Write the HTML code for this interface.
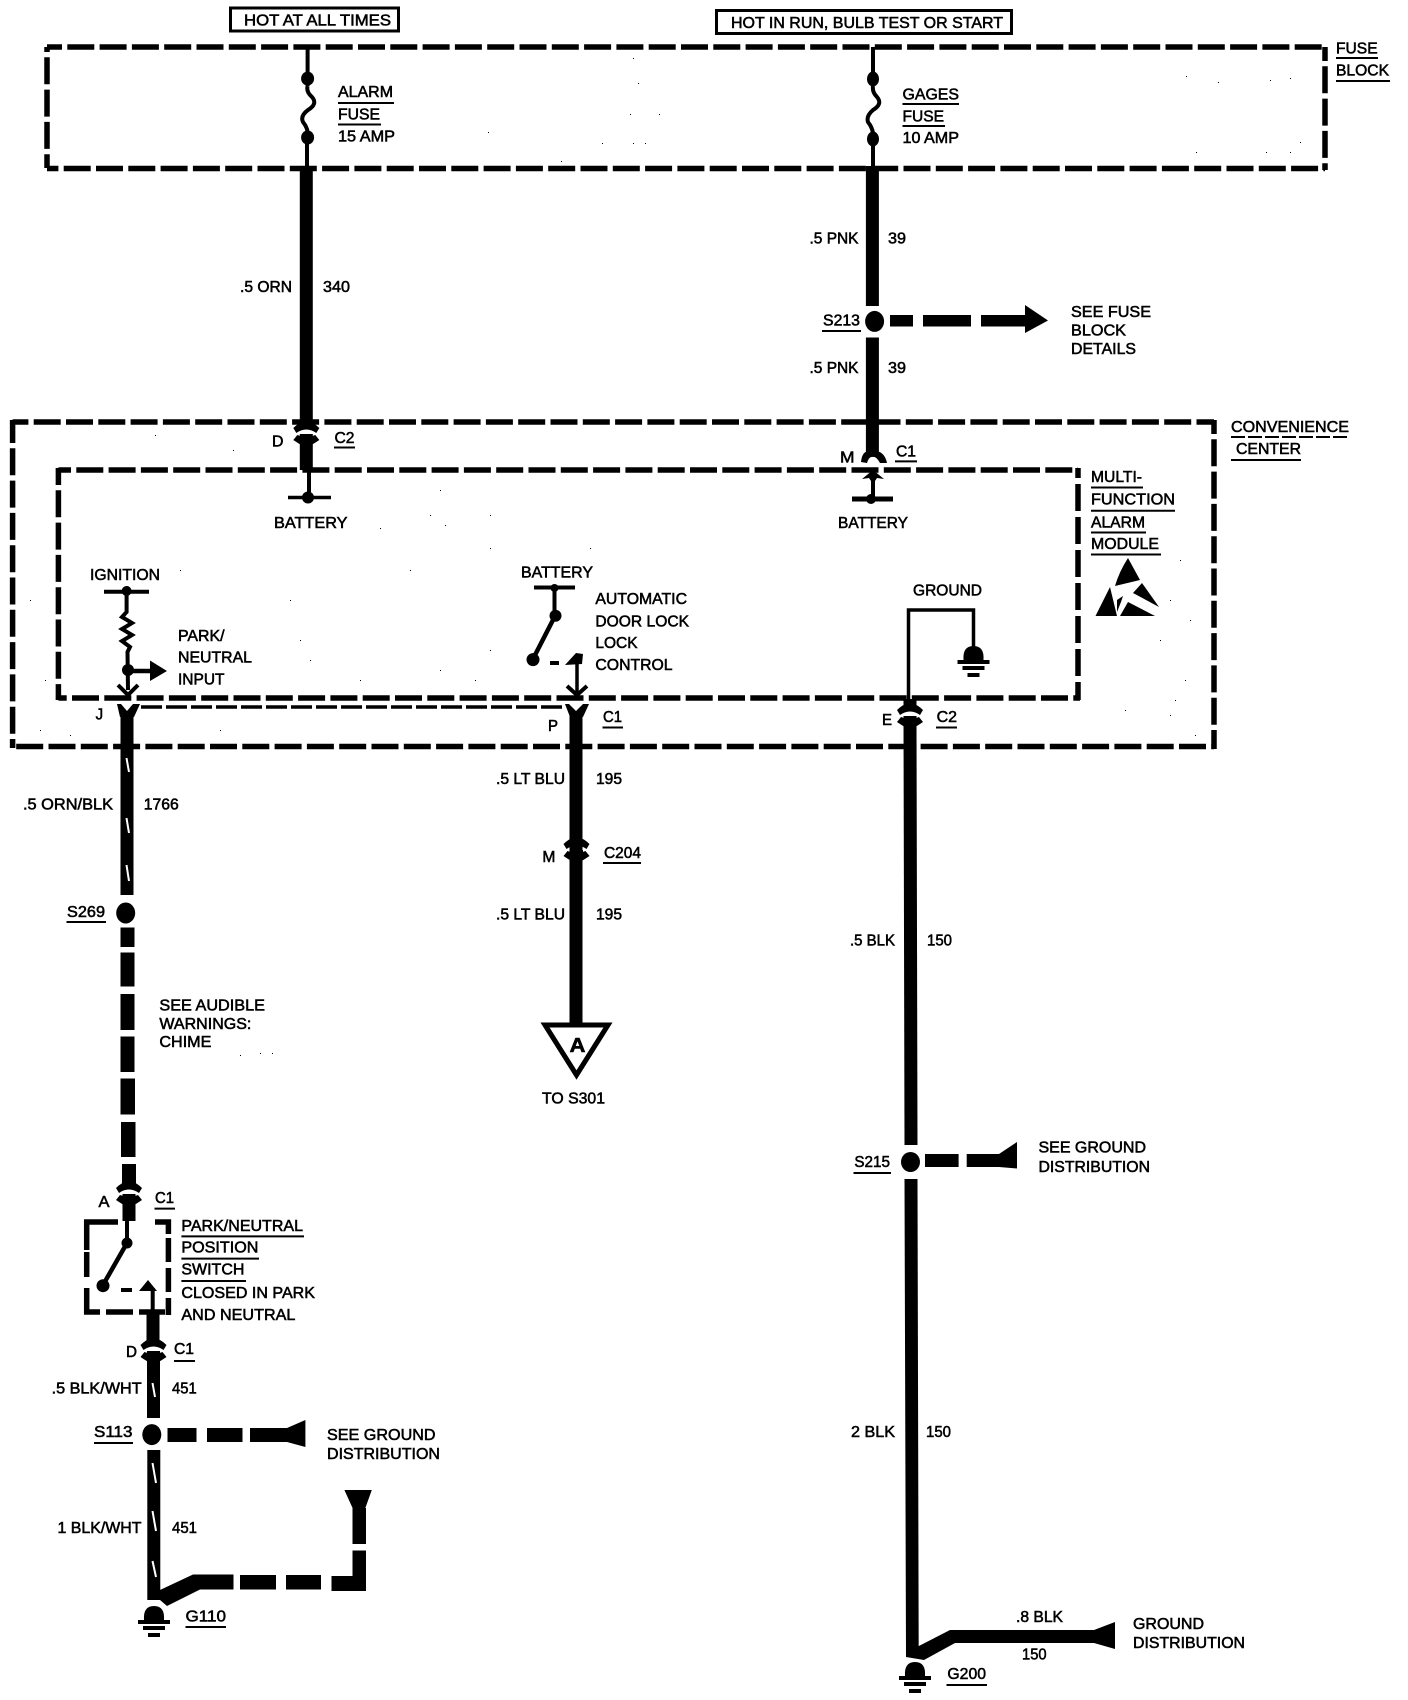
<!DOCTYPE html>
<html><head><meta charset="utf-8"><title>Wiring diagram</title>
<style>
html,body{margin:0;padding:0;background:#fff;width:1408px;height:1700px;overflow:hidden}
svg{display:block}
text{font-family:"Liberation Sans",sans-serif;font-size:16px;fill:#000;stroke:#000;stroke-width:.55px}
.d{stroke:#000;stroke-width:5.5;fill:none;stroke-dasharray:27 5.3}
.l{stroke:#000;fill:none}
.u{stroke:#000;stroke-width:2;fill:none}
.w{stroke:#000;stroke-width:13;fill:none}
.t{stroke:#000;stroke-width:4;fill:none}
.s{stroke:#fff;stroke-width:2;fill:none}
</style></head><body>
<svg width="1408" height="1700" viewBox="0 0 1408 1700" xmlns="http://www.w3.org/2000/svg">
<defs>
<g id="cn">
<path d="M-13,-7 Q-7,-13 0,-14 Q7,-13 13,-7 L10,-2 Q0,-9 -10,-2 Z"/>
<path d="M-13,5 L-9,0 L0,3 L9,0 L13,5 Q7,9 5,10 L-5,10 Q-7,9 -13,5 Z"/>
<rect x="-6.500" y="-10" width="13" height="4"/>
<rect x="-6.500" y="-1" width="13" height="8"/>
</g>
<g id="gnd">
<path d="M-10,14 Q-11,0 0,0 Q11,0 10,14 Z"/>
<rect x="-16" y="14" width="32" height="4"/>
<rect x="-11" y="20" width="22" height="4"/>
<rect x="-6" y="27" width="12" height="4"/>
</g>
</defs>

<!-- header boxes -->
<rect x="230.500" y="8" width="168" height="23" fill="none" stroke="#000" stroke-width="3"/>
<rect x="716.500" y="10.500" width="295" height="23" fill="none" stroke="#000" stroke-width="3"/>
<text x="244" y="25.700" textLength="147" lengthAdjust="spacingAndGlyphs">HOT AT ALL TIMES</text>
<text x="731" y="27.900" textLength="272" lengthAdjust="spacingAndGlyphs">HOT IN RUN, BULB TEST OR START</text>

<!-- fuse block -->
<line class="d" x1="47" y1="47" x2="1325" y2="47" stroke-dashoffset="12"/>
<line class="d" x1="47" y1="168.500" x2="1325" y2="168.500" stroke-dashoffset="15.600"/>
<line class="d" x1="47" y1="47" x2="47" y2="168" stroke-dashoffset="22"/>
<line class="d" x1="1325" y1="47" x2="1325" y2="170" stroke-dashoffset="13"/>
<text x="1336" y="53.600" textLength="41.600" lengthAdjust="spacingAndGlyphs">FUSE</text>
<line class="u" x1="1336" y1="58" x2="1378" y2="58"/>
<text x="1336" y="75.700" textLength="53" lengthAdjust="spacingAndGlyphs">BLOCK</text>
<line class="u" x1="1336" y1="81" x2="1390" y2="81"/>

<!-- convenience center -->
<line class="d" x1="12.600" y1="422" x2="1214" y2="422" stroke-dashoffset="11.200"/>
<line class="d" x1="12.600" y1="746.500" x2="1214" y2="746.500" stroke-dashoffset="28.700"/>
<line class="d" x1="12.600" y1="420" x2="12.600" y2="748" stroke-dashoffset="4"/>
<line class="d" x1="1214" y1="420" x2="1214" y2="749" stroke-dashoffset="13"/>
<text x="1231" y="432" textLength="118" lengthAdjust="spacingAndGlyphs">CONVENIENCE</text>
<line class="u" x1="1231" y1="437" x2="1349" y2="437" stroke-dasharray="14 3"/>
<text x="1236" y="454" textLength="65" lengthAdjust="spacingAndGlyphs">CENTER</text>
<line class="u" x1="1231" y1="460" x2="1301" y2="460"/>

<!-- module -->
<line class="d" x1="58.400" y1="470" x2="1078" y2="470" stroke-dashoffset="14.400"/>
<line class="d" x1="58.400" y1="698" x2="1080" y2="698" stroke-dashoffset="18.700"/>
<line class="d" x1="58.400" y1="468" x2="58.400" y2="700" stroke-dashoffset="10"/>
<line class="d" x1="1078" y1="468" x2="1078" y2="700" stroke-dashoffset="17" style="stroke-dasharray:27 6"/>
<line class="l" stroke-width="3.500" stroke-dasharray="21 4" x1="141" y1="707" x2="565" y2="707"/>
<text x="1091" y="482" textLength="51" lengthAdjust="spacingAndGlyphs">MULTI-</text>
<line class="u" x1="1091" y1="487.500" x2="1143" y2="487.500"/>
<text x="1091" y="504.600" textLength="84" lengthAdjust="spacingAndGlyphs">FUNCTION</text>
<line class="u" x1="1091" y1="510.700" x2="1175" y2="510.700"/>
<text x="1091" y="527.500" textLength="54" lengthAdjust="spacingAndGlyphs">ALARM</text>
<line class="u" x1="1091" y1="532.500" x2="1146" y2="532.500"/>
<text x="1091" y="549" textLength="68" lengthAdjust="spacingAndGlyphs">MODULE</text>
<line class="u" x1="1091" y1="554.500" x2="1161" y2="554.500"/>

<!-- ESD symbol -->
<path d="M1128,558 L1140,580 L1115,586 Q1119,572 1128,558 Z"/>
<path d="M1142,583 L1159,607 L1133,593 Z"/>
<path d="M1110,587 L1117,616 L1095.500,616 Z"/>
<path d="M1123,596 L1121,602 L1117,612 L1117,600 Z"/>
<path d="M1128,602 L1155,616 L1120,616 Z"/>

<!-- left fuse & wire 340 -->
<line class="l" stroke-width="4" x1="307.600" y1="47" x2="307.600" y2="86"/>
<ellipse cx="307.600" cy="78.600" rx="6.500" ry="7"/>
<path class="t" d="M307.600,86 Q306,92 312,97 Q318,104 308,110 Q300,116 303,122 Q307,127 307.600,132"/>
<ellipse cx="307.600" cy="137.500" rx="6.500" ry="7"/>
<line class="l" stroke-width="4" x1="307" y1="132" x2="307" y2="168"/>
<line class="w" x1="306.300" y1="166" x2="306.300" y2="428"/>
<use href="#cn" x="306.300" y="435"/>
<line class="w" x1="306.300" y1="438" x2="306.300" y2="470"/>
<line class="l" stroke-width="4" x1="309" y1="470" x2="309" y2="497"/>
<line class="l" stroke-width="3.500" x1="288" y1="497.500" x2="331" y2="497.500"/>
<circle cx="308" cy="497.500" r="6"/>
<text x="338" y="97" textLength="55" lengthAdjust="spacingAndGlyphs">ALARM</text>
<line class="u" x1="338" y1="103" x2="394" y2="103"/>
<text x="338" y="119.600" textLength="42" lengthAdjust="spacingAndGlyphs">FUSE</text>
<line class="u" x1="338" y1="124.500" x2="381" y2="124.500"/>
<text x="338" y="141.400" textLength="57" lengthAdjust="spacingAndGlyphs">15 AMP</text>
<text x="240" y="292" textLength="52" lengthAdjust="spacingAndGlyphs">.5 ORN</text>
<text x="323" y="292" textLength="27" lengthAdjust="spacingAndGlyphs">340</text>
<text x="272" y="446.400" textLength="11.500" lengthAdjust="spacingAndGlyphs">D</text>
<text x="334.500" y="443" textLength="20" lengthAdjust="spacingAndGlyphs">C2</text>
<line class="u" x1="334" y1="447.500" x2="355" y2="447.500"/>
<text x="274" y="528" textLength="73.500" lengthAdjust="spacingAndGlyphs">BATTERY</text>

<!-- right fuse & wire 39 -->
<line class="l" stroke-width="4" x1="873" y1="47" x2="873" y2="86"/>
<ellipse cx="873" cy="79" rx="6" ry="7.500"/>
<path class="t" d="M873,86 Q872,92 877,97 Q883,104 873,110 Q866,116 868,122 Q872,127 873,133"/>
<ellipse cx="873" cy="139" rx="6" ry="7.500"/>
<line class="l" stroke-width="4" x1="873" y1="133" x2="873" y2="168"/>
<line class="w" x1="872.400" y1="166" x2="872.400" y2="306"/>
<ellipse cx="874.600" cy="321.400" rx="9.500" ry="10.500"/>
<line class="w" x1="872.400" y1="337.500" x2="872.400" y2="455"/>
<path d="M861,462 Q862,452 868,451 L877,451 Q885,453 887,463 L880,463 Q876,456 873,457 Q869,456 867,463 Z"/>
<path d="M862,479 L873,470 L884,479 L877,478 L875,481 L871,481 L869,478 Z"/>
<line class="l" stroke-width="4" x1="873" y1="470" x2="873" y2="499"/>
<line class="l" stroke-width="5" x1="852" y1="499" x2="893" y2="499"/>
<circle cx="871" cy="499" r="5"/>
<text x="902.500" y="99.300" textLength="56.500" lengthAdjust="spacingAndGlyphs">GAGES</text>
<line class="u" x1="902.500" y1="104" x2="959" y2="104"/>
<text x="902.500" y="121.400" textLength="41.500" lengthAdjust="spacingAndGlyphs">FUSE</text>
<line class="u" x1="902.500" y1="126" x2="945" y2="126"/>
<text x="902.500" y="143" textLength="56.500" lengthAdjust="spacingAndGlyphs">10 AMP</text>
<text x="809.500" y="243.600" textLength="49" lengthAdjust="spacingAndGlyphs">.5 PNK</text>
<text x="888" y="243.600" textLength="18" lengthAdjust="spacingAndGlyphs">39</text>
<text x="809.500" y="373" textLength="49" lengthAdjust="spacingAndGlyphs">.5 PNK</text>
<text x="888" y="373" textLength="18" lengthAdjust="spacingAndGlyphs">39</text>
<text x="823" y="325.700" textLength="37" lengthAdjust="spacingAndGlyphs">S213</text>
<line class="u" x1="822" y1="331" x2="861" y2="331"/>
<rect x="890" y="315" width="23" height="11.500"/>
<rect x="923" y="315" width="48" height="11.500"/>
<rect x="981" y="315" width="44" height="11.500"/>
<polygon points="1025,305 1048,320.500 1025,333"/>
<text x="1071" y="317" textLength="80" lengthAdjust="spacingAndGlyphs">SEE FUSE</text>
<text x="1071" y="335.700" textLength="55" lengthAdjust="spacingAndGlyphs">BLOCK</text>
<text x="1071" y="354" textLength="65" lengthAdjust="spacingAndGlyphs">DETAILS</text>
<text x="840" y="462.500" textLength="14.500" lengthAdjust="spacingAndGlyphs">M</text>
<text x="896" y="456.400" textLength="20" lengthAdjust="spacingAndGlyphs">C1</text>
<line class="u" x1="895" y1="461.400" x2="917" y2="461.400"/>
<text x="838" y="528" textLength="70" lengthAdjust="spacingAndGlyphs">BATTERY</text>

<!-- ignition -->
<text x="90" y="580" textLength="70" lengthAdjust="spacingAndGlyphs">IGNITION</text>
<line class="l" stroke-width="4" x1="104" y1="591.800" x2="149" y2="591.800"/>
<circle cx="126.600" cy="591" r="5"/>
<path class="t" d="M126.600,592 L126.600,612 L122,617 L132,623 L122,629 L132,635 L122,641 L130,647 L127.500,652 L128,690"/>
<circle cx="128" cy="670" r="6"/>
<line class="l" stroke-width="4.500" x1="128" y1="671" x2="152" y2="671"/>
<polygon points="150,660.500 167,671 150,681"/>
<path class="t" d="M118,685 L128,695 L138,685"/>
<path d="M117,704 L121,704 L127,711 L133,704 L140,704 L134,717 L120,717 Z"/>
<text x="95.600" y="719.600" textLength="7.500" lengthAdjust="spacingAndGlyphs">J</text>
<text x="178" y="640.800" textLength="46.500" lengthAdjust="spacingAndGlyphs">PARK/</text>
<text x="178" y="662.600" textLength="74" lengthAdjust="spacingAndGlyphs">NEUTRAL</text>
<text x="178" y="684.700" textLength="46.500" lengthAdjust="spacingAndGlyphs">INPUT</text>

<!-- wire 1766 -->
<line class="w" x1="127" y1="714" x2="127" y2="895"/>
<line class="s" x1="126.500" y1="758" x2="129" y2="772"/>
<line class="s" x1="126.500" y1="818" x2="129" y2="833"/>
<line class="s" x1="126.500" y1="865" x2="129" y2="881"/>
<text x="23" y="809.600" textLength="90" lengthAdjust="spacingAndGlyphs">.5 ORN/BLK</text>
<text x="143.700" y="809.600" textLength="35" lengthAdjust="spacingAndGlyphs">1766</text>
<text x="67" y="916.800" textLength="38" lengthAdjust="spacingAndGlyphs">S269</text>
<line class="u" x1="66.500" y1="922" x2="106" y2="922"/>
<ellipse cx="125.700" cy="913" rx="9.500" ry="10.500"/>
<rect x="120.500" y="927.500" width="14" height="19.500"/>
<rect x="120.500" y="952.500" width="14" height="34"/>
<rect x="120.500" y="994" width="14" height="36"/>
<rect x="120.500" y="1036.500" width="14" height="35.500"/>
<rect x="120.500" y="1078.500" width="14.500" height="36"/>
<rect x="121" y="1122" width="14.500" height="35"/>
<rect x="122" y="1164" width="14" height="24"/>
<text x="159.400" y="1010.400" textLength="105.600" lengthAdjust="spacingAndGlyphs">SEE AUDIBLE</text>
<text x="159.400" y="1029" textLength="92" lengthAdjust="spacingAndGlyphs">WARNINGS:</text>
<text x="159.400" y="1047" textLength="52" lengthAdjust="spacingAndGlyphs">CHIME</text>

<!-- P/N switch -->
<use href="#cn" x="129" y="1195"/>
<rect x="122.500" y="1200" width="13" height="21"/>
<text x="98.500" y="1206.800" textLength="11" lengthAdjust="spacingAndGlyphs">A</text>
<text x="155" y="1203" textLength="19" lengthAdjust="spacingAndGlyphs">C1</text>
<line class="u" x1="154.500" y1="1208.600" x2="175" y2="1208.600"/>
<path class="l" stroke-width="5.500" d="M86.700,1250 V1222 H118"/>
<path class="l" stroke-width="5.500" d="M155,1222 H168.400 V1234"/>
<line class="l" stroke-width="5.500" x1="86.700" y1="1252" x2="86.700" y2="1283" stroke-dasharray="25 6"/>
<line class="l" stroke-width="5.500" x1="168.400" y1="1238" x2="168.400" y2="1315" stroke-dasharray="24 6"/>
<path class="l" stroke-width="5.500" d="M86.700,1288 V1312 H100"/>
<line class="l" stroke-width="5.500" x1="106" y1="1312" x2="133" y2="1312"/>
<line class="l" stroke-width="5.500" x1="139" y1="1312" x2="165" y2="1312"/>
<line class="l" stroke-width="4" x1="127" y1="1221" x2="127" y2="1243"/>
<circle cx="127" cy="1243" r="5.500"/>
<line class="l" stroke-width="4.500" x1="127" y1="1243" x2="103" y2="1285"/>
<circle cx="103" cy="1285.700" r="6.500"/>
<rect x="121" y="1288" width="11" height="4"/>
<polygon points="139,1291 148,1280 157,1291"/>
<line class="l" stroke-width="4" x1="152.700" y1="1288" x2="152.700" y2="1312"/>
<text x="181.400" y="1230.800" textLength="121.600" lengthAdjust="spacingAndGlyphs">PARK/NEUTRAL</text>
<line class="u" x1="181.400" y1="1236.400" x2="304" y2="1236.400"/>
<text x="181.400" y="1252.600" textLength="77" lengthAdjust="spacingAndGlyphs">POSITION</text>
<line class="u" x1="181.400" y1="1258.600" x2="259" y2="1258.600"/>
<text x="181.400" y="1274.700" textLength="63" lengthAdjust="spacingAndGlyphs">SWITCH</text>
<line class="u" x1="181.400" y1="1281" x2="246" y2="1281"/>
<text x="181.400" y="1298" textLength="133.600" lengthAdjust="spacingAndGlyphs">CLOSED IN PARK</text>
<text x="181.400" y="1320" textLength="114" lengthAdjust="spacingAndGlyphs">AND NEUTRAL</text>

<!-- wire 451 -->
<line class="w" x1="153" y1="1312" x2="153" y2="1345"/>
<use href="#cn" x="153.500" y="1352"/>
<line class="w" x1="153.500" y1="1358" x2="153.500" y2="1418"/>
<line class="s" x1="152.500" y1="1383" x2="155" y2="1397"/>
<text x="126" y="1356.800" textLength="11" lengthAdjust="spacingAndGlyphs">D</text>
<text x="174" y="1354" textLength="20" lengthAdjust="spacingAndGlyphs">C1</text>
<line class="u" x1="174" y1="1361" x2="195" y2="1361"/>
<text x="51.600" y="1393.600" textLength="90" lengthAdjust="spacingAndGlyphs">.5 BLK/WHT</text>
<text x="172" y="1393.600" textLength="24.700" lengthAdjust="spacingAndGlyphs">451</text>
<text x="94" y="1437" textLength="38.500" lengthAdjust="spacingAndGlyphs">S113</text>
<line class="u" x1="94" y1="1443" x2="133" y2="1443"/>
<ellipse cx="151.800" cy="1434.600" rx="9.500" ry="10.500"/>
<rect x="167.500" y="1428" width="29" height="14"/>
<rect x="207" y="1428" width="35.500" height="14"/>
<rect x="250" y="1428" width="38" height="14"/>
<polygon points="287,1428 305.400,1420 305.400,1447 287,1442"/>
<text x="327" y="1440" textLength="108.600" lengthAdjust="spacingAndGlyphs">SEE GROUND</text>
<text x="327" y="1459" textLength="113" lengthAdjust="spacingAndGlyphs">DISTRIBUTION</text>
<line class="w" x1="153.800" y1="1450" x2="153.800" y2="1600"/>
<line class="s" x1="152.500" y1="1463" x2="156" y2="1483"/>
<line class="s" x1="152.500" y1="1511" x2="156" y2="1531"/>
<line class="s" x1="152.500" y1="1561" x2="156" y2="1577"/>
<text x="57.500" y="1533" textLength="84" lengthAdjust="spacingAndGlyphs">1 BLK/WHT</text>
<text x="172" y="1533" textLength="25" lengthAdjust="spacingAndGlyphs">451</text>
<polygon points="160,1590 193,1574.500 233.500,1574.500 233.500,1589.500 200,1589.500 167,1606 160,1600"/>
<rect x="240" y="1575" width="36" height="14.500"/>
<rect x="286" y="1575" width="35" height="14.500"/>
<rect x="331.500" y="1576" width="34.500" height="15"/>
<rect x="352.500" y="1550.500" width="13.500" height="40"/>
<rect x="352.500" y="1508" width="13.500" height="36"/>
<polygon points="344.400,1490 371.800,1490 365,1509 353,1509"/>
<use href="#gnd" x="154" y="1606"/>
<text x="185.500" y="1621.400" textLength="40.500" lengthAdjust="spacingAndGlyphs">G110</text>
<line class="u" x1="185.500" y1="1627" x2="226" y2="1627"/>

<!-- battery / door lock -->
<text x="521" y="577.500" textLength="72" lengthAdjust="spacingAndGlyphs">BATTERY</text>
<line class="l" stroke-width="4" x1="534" y1="587.500" x2="575" y2="587.500"/>
<circle cx="554.500" cy="588" r="4"/>
<line class="l" stroke-width="4" x1="554.500" y1="588" x2="554.500" y2="616"/>
<circle cx="555.500" cy="615.700" r="6"/>
<line class="l" stroke-width="4.500" x1="555" y1="616" x2="533" y2="659"/>
<circle cx="533" cy="659.600" r="6.500"/>
<rect x="550" y="661" width="9" height="4"/>
<polygon points="565,665 576,653 583,654 582,664"/>
<line class="l" stroke-width="3.500" x1="577" y1="658" x2="577" y2="692"/>
<path class="t" d="M567,686 L577,695 L587,686"/>
<path d="M565,704 L569,704 L576,711 L583,704 L589,704 L583,717 L570,717 Z"/>
<text x="595.400" y="604" textLength="91.600" lengthAdjust="spacingAndGlyphs">AUTOMATIC</text>
<text x="595.400" y="626.500" textLength="93.600" lengthAdjust="spacingAndGlyphs">DOOR LOCK</text>
<text x="595.400" y="648" textLength="42.200" lengthAdjust="spacingAndGlyphs">LOCK</text>
<text x="595.400" y="670" textLength="77.200" lengthAdjust="spacingAndGlyphs">CONTROL</text>
<text x="548" y="731" textLength="10" lengthAdjust="spacingAndGlyphs">P</text>
<text x="603" y="722" textLength="19" lengthAdjust="spacingAndGlyphs">C1</text>
<line class="u" x1="602.500" y1="727.500" x2="623" y2="727.500"/>
<line class="w" x1="576" y1="712" x2="576" y2="1024"/>
<use href="#cn" x="576.500" y="851" />
<text x="496" y="784" textLength="69" lengthAdjust="spacingAndGlyphs">.5 LT BLU</text>
<text x="596" y="784" textLength="26" lengthAdjust="spacingAndGlyphs">195</text>
<text x="542.400" y="862" textLength="13" lengthAdjust="spacingAndGlyphs">M</text>
<text x="604" y="858" textLength="37" lengthAdjust="spacingAndGlyphs">C204</text>
<line class="u" x1="603" y1="863" x2="641" y2="863"/>
<text x="496" y="919.300" textLength="69" lengthAdjust="spacingAndGlyphs">.5 LT BLU</text>
<text x="596" y="919.300" textLength="26" lengthAdjust="spacingAndGlyphs">195</text>
<polygon points="545,1025 608,1025 576.500,1075" fill="none" stroke="#000" stroke-width="5"/>
<text x="569.500" y="1052" textLength="16" lengthAdjust="spacingAndGlyphs" style="font-weight:bold;font-size:20px">A</text>
<text x="542" y="1103.500" textLength="63" lengthAdjust="spacingAndGlyphs">TO S301</text>

<!-- ground internal -->
<text x="913" y="595.400" textLength="69" lengthAdjust="spacingAndGlyphs">GROUND</text>
<path class="l" stroke-width="3.500" d="M908.500,700 V610 H973.500 V650"/>
<use href="#gnd" x="973.500" y="646"/>
<rect x="903.500" y="699" width="13" height="10"/>
<use href="#cn" x="910" y="717"/>
<text x="882" y="725" textLength="10" lengthAdjust="spacingAndGlyphs">E</text>
<text x="936.600" y="722" textLength="20.400" lengthAdjust="spacingAndGlyphs">C2</text>
<line class="u" x1="936" y1="727.500" x2="957" y2="727.500"/>

<!-- wire 150 -->
<polygon points="903.500,720 916.500,720 917.500,1145 904.500,1145"/>
<ellipse cx="910.500" cy="1162" rx="9.500" ry="10"/>
<polygon points="904.500,1179 917.500,1179 918.700,1657 906,1657"/>
<text x="850" y="945.400" textLength="45" lengthAdjust="spacingAndGlyphs">.5 BLK</text>
<text x="927" y="945.400" textLength="25" lengthAdjust="spacingAndGlyphs">150</text>
<text x="854.400" y="1167" textLength="35.600" lengthAdjust="spacingAndGlyphs">S215</text>
<line class="u" x1="853.500" y1="1173" x2="891" y2="1173"/>
<rect x="925" y="1154" width="33.600" height="13"/>
<rect x="966.700" y="1154" width="33.300" height="13"/>
<polygon points="999,1154 1017,1142 1017,1168.500 999,1167"/>
<text x="1038.500" y="1152.500" textLength="107.500" lengthAdjust="spacingAndGlyphs">SEE GROUND</text>
<text x="1038.500" y="1172" textLength="111.500" lengthAdjust="spacingAndGlyphs">DISTRIBUTION</text>
<text x="851" y="1437" textLength="44" lengthAdjust="spacingAndGlyphs">2 BLK</text>
<text x="926" y="1437" textLength="25" lengthAdjust="spacingAndGlyphs">150</text>
<polygon points="915,1648 950,1630 1095,1630 1095,1643 955,1643 924,1660 906,1657"/>
<polygon points="1094,1630 1115,1622 1115,1649 1094,1643"/>
<text x="1016" y="1622" textLength="47" lengthAdjust="spacingAndGlyphs">.8 BLK</text>
<text x="1022" y="1659.600" textLength="24.600" lengthAdjust="spacingAndGlyphs">150</text>
<text x="1133" y="1629" textLength="71" lengthAdjust="spacingAndGlyphs">GROUND</text>
<text x="1133" y="1648" textLength="112" lengthAdjust="spacingAndGlyphs">DISTRIBUTION</text>
<use href="#gnd" x="915" y="1662"/>
<text x="947.400" y="1679" textLength="38.600" lengthAdjust="spacingAndGlyphs">G200</text>
<line class="u" x1="946.500" y1="1685" x2="987" y2="1685"/>

<!-- scan specks -->
<path d="M633,58h1v1h-1zM638,83h1v1h-1zM630,114h1v1h-1zM659,114h1v1h-1zM488,132h1v1h-1zM602,143h1v1h-1zM633,143h1v1h-1zM645,143h1v1h-1zM561,161h1v1h-1zM1186,76h1v1h-1zM1218,82h1v1h-1zM1270,80h1v1h-1zM1290,78h1v1h-1zM1196,152h1v1h-1zM1266,152h1v1h-1zM1290,152h1v1h-1zM1300,142h1v1h-1zM155,435h1v1h-1zM233,450h1v1h-1zM440,490h1v1h-1zM430,515h1v1h-1zM490,515h1v1h-1zM380,528h1v1h-1zM445,525h1v1h-1zM490,548h1v1h-1zM590,548h1v1h-1zM180,570h1v1h-1zM410,570h1v1h-1zM290,600h1v1h-1zM300,640h1v1h-1zM310,660h1v1h-1zM360,680h1v1h-1zM440,670h1v1h-1zM490,650h1v1h-1zM475,680h1v1h-1zM30,600h1v1h-1zM45,680h1v1h-1zM40,730h1v1h-1zM70,735h1v1h-1zM220,730h1v1h-1zM1180,560h1v1h-1zM1170,600h1v1h-1zM1190,620h1v1h-1zM1160,640h1v1h-1zM1185,680h1v1h-1zM1125,710h1v1h-1zM1170,715h1v1h-1zM1175,700h1v1h-1zM1195,735h1v1h-1zM240,1055h1v1h-1zM260,1053h1v1h-1zM272,1053h1v1h-1z"/>
</svg>
</body></html>
